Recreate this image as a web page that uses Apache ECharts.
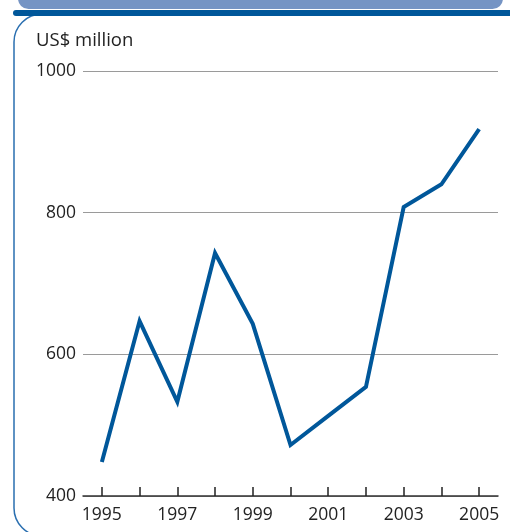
<!DOCTYPE html>
<html>
<head>
<meta charset="utf-8">
<script src="https://cdn.jsdelivr.net/npm/echarts@6/dist/echarts.min.js"></script>
<style>
  html, body { margin: 0; padding: 0; background: #ffffff; }
  #chart { width: 510px; height: 532px; }
</style>
</head>
<body>
<div id="chart"></div>
<script>
// Annual values, US$ million
const years = ['1995', '1996', '1997', '1998', '1999', '2000', '2001', '2002', '2003', '2004', '2005'];
const values = [448, 647, 533, 743, 643, 472, 513, 554, 808, 840, 918];
const yTicks = [400, 600, 800, 1000];

const FONT = '"Open Sans", "Noto Sans", sans-serif';
const BLUE = '#00579a';

const chart = echarts.init(document.getElementById('chart'), null, { renderer: 'canvas' });

chart.setOption({
  animation: false,
  backgroundColor: '#ffffff',
  graphic: [
    // light band across the top
    { type: 'rect', z: 1, shape: { x: 18, y: -12, width: 485, height: 21, r: 11 },
      style: { fill: '#7594c4' } },
    // dark rule under the band
    { type: 'rect', z: 2, shape: { x: 13, y: 10, width: 510, height: 6, r: [3, 0, 0, 3] },
      style: { fill: '#00579a' } },
    // rounded panel outline
    { type: 'rect', z: 0, shape: { x: 14, y: 14, width: 520, height: 522, r: 28 },
      style: { fill: 'none', stroke: '#2a6fb0', lineWidth: 1.5 } },
    // unit label
    { type: 'text', z: 3, left: 36, top: 31,
      style: { text: 'US$ million', font: '18.5px ' + FONT, fill: '#222222' } }
  ],
  grid: { left: 83, right: 12, top: 71, bottom: 36, containLabel: false },
  xAxis: {
    type: 'category',
    data: years,
    boundaryGap: true,
    axisLine: { show: true, lineStyle: { color: '#333333', width: 1.5 } },
    axisTick: { show: true, alignWithLabel: true, interval: 0, inside: true, length: 9,
                lineStyle: { color: '#222222', width: 1.5 } },
    axisLabel: { interval: 1, color: '#222222', fontSize: 17.5, fontFamily: FONT, margin: 10 },
    splitLine: { show: false }
  },
  yAxis: {
    type: 'value',
    min: yTicks[0],
    max: yTicks[yTicks.length - 1],
    interval: 200,
    axisLine: { show: false },
    axisTick: { show: false },
    axisLabel: { color: '#222222', fontSize: 17.5, fontFamily: FONT, margin: 7,
                 formatter: (v) => String(v) },
    splitLine: { show: true, lineStyle: { color: '#9a9a9a', width: 1 } }
  },
  series: [{
    type: 'line',
    data: values,
    symbol: 'none',
    lineStyle: { color: BLUE, width: 4, join: 'miter', cap: 'butt' },
    z: 5
  }]
});
</script>
</body>
</html>
